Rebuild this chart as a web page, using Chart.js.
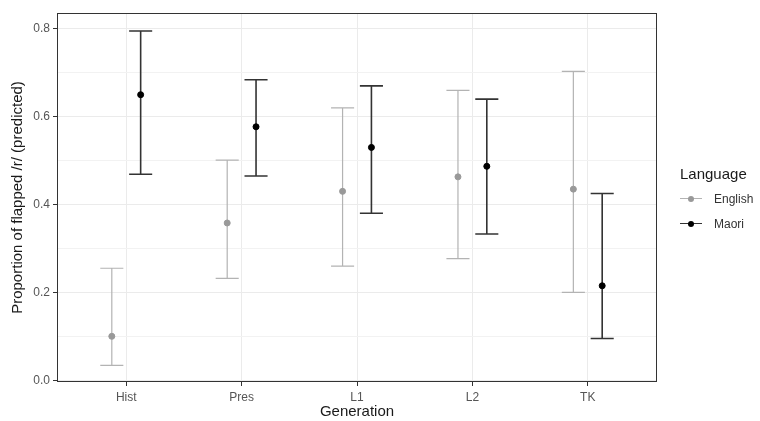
<!DOCTYPE html>
<html>
<head>
<meta charset="utf-8">
<script src="https://cdn.jsdelivr.net/npm/chart.js@4"></script>
<style>
  body { margin: 0; background: #fff; font-family: "Liberation Sans", Arial, sans-serif; }
  #wrap { position: relative; width: 760px; height: 421px; }
  #legend { position: absolute; left: 680px; top: 165px; color: #1a1a1a; }
  #legend .title { font-size: 15px; line-height: 18px; margin-bottom: 3px; }
  #legend .item { display: flex; align-items: center; height: 25px; font-size: 12px; color: #333; }
  #legend .key { position: relative; width: 22px; height: 10px; margin: 0 12px 0 0; }
  #legend .key i { position: absolute; left: 0; right: 0; top: 4.5px; height: 1px; }
  #legend .key b { position: absolute; left: 8px; top: 2px; width: 6px; height: 6px; border-radius: 50%; }
</style>
</head>
<body>
<div id="wrap">
  <canvas id="chart" width="760" height="421"></canvas>
  <div id="legend">
    <div class="title">Language</div>
    <div class="item"><span class="key"><i style="background:#b3b3b3"></i><b style="background:#999"></b></span>English</div>
    <div class="item"><span class="key"><i style="background:#333"></i><b style="background:#000"></b></span>Maori</div>
  </div>
</div>
<script>
// ---------------------------------------------------------------------------
// Data
// ---------------------------------------------------------------------------
const categories = ["Hist", "Pres", "L1", "L2", "TK"];

const englishMean  = [0.100, 0.358, 0.430, 0.463, 0.435];
const englishLower = [0.034, 0.232, 0.260, 0.277, 0.200];
const englishUpper = [0.255, 0.501, 0.620, 0.660, 0.703];

const maoriMean  = [0.650, 0.577, 0.530, 0.487, 0.215];
const maoriLower = [0.469, 0.465, 0.380, 0.333, 0.095];
const maoriUpper = [0.795, 0.684, 0.670, 0.640, 0.425];

const yTicks = [0, 0.1, 0.2, 0.3, 0.4, 0.5, 0.6, 0.7, 0.8];
const yMajor = [0, 0.2, 0.4, 0.6, 0.8];

const DODGE = 0.125;   // ggplot position_dodge offset
const CAP = 0.1;       // half cap width in x units

const isMajor = (v) => yMajor.some((m) => Math.abs(m - v) < 1e-6);

// ---------------------------------------------------------------------------
// Error bars + panel border
// ---------------------------------------------------------------------------
const errorBars = {
  id: "errorBars",
  beforeDatasetsDraw(chart) {
    const { ctx, scales: { x, y } } = chart;
    const series = [
      { off: -DODGE, lo: englishLower, hi: englishUpper, color: "#b3b3b3", width: 1.2 },
      { off: DODGE, lo: maoriLower, hi: maoriUpper, color: "#333333", width: 1.6 },
    ];
    ctx.save();
    series.forEach((s) => {
      ctx.strokeStyle = s.color;
      ctx.lineWidth = s.width;
      categories.forEach((_, i) => {
        const cx = i + 1 + s.off;
        const px = x.getPixelForValue(cx);
        const x0 = x.getPixelForValue(cx - CAP);
        const x1 = x.getPixelForValue(cx + CAP);
        const yl = y.getPixelForValue(s.lo[i]);
        const yh = y.getPixelForValue(s.hi[i]);
        ctx.beginPath();
        ctx.moveTo(px, yl); ctx.lineTo(px, yh);
        ctx.moveTo(x0, yl); ctx.lineTo(x1, yl);
        ctx.moveTo(x0, yh); ctx.lineTo(x1, yh);
        ctx.stroke();
      });
    });
    ctx.restore();
  },
  afterDraw(chart) {
    const { ctx, chartArea: a } = chart;
    ctx.save();
    ctx.strokeStyle = "#333";
    ctx.lineWidth = 1;
    ctx.strokeRect(Math.round(a.left) + 0.5, Math.round(a.top) + 0.5,
      Math.round(a.right - a.left) - 1, Math.round(a.bottom - a.top) - 1);
    ctx.restore();
  },
};

// ---------------------------------------------------------------------------
// Chart
// ---------------------------------------------------------------------------
new Chart(document.getElementById("chart"), {
  type: "scatter",
  data: {
    datasets: [
      {
        label: "English",
        data: englishMean.map((v, i) => ({ x: i + 1 - DODGE, y: v })),
        backgroundColor: "#999999",
        borderColor: "#999999",
        pointRadius: 3,
      },
      {
        label: "Maori",
        data: maoriMean.map((v, i) => ({ x: i + 1 + DODGE, y: v })),
        backgroundColor: "#000000",
        borderColor: "#000000",
        pointRadius: 3,
      },
    ],
  },
  options: {
    responsive: false,
    animation: false,
    layout: { padding: { top: 13, right: 103, left: 9, bottom: 0 } },
    plugins: { legend: { display: false }, tooltip: { enabled: false } },
    scales: {
      x: {
        type: "linear",
        min: 0.4,
        max: 5.6,
        afterBuildTicks: (axis) => { axis.ticks = categories.map((_, i) => ({ value: i + 1 })); },
        afterFit: (axis) => { axis.height = 39; },
        ticks: {
          callback: (v) => categories[Math.round(v) - 1] || "",
          color: "#555",
          font: { family: "Liberation Sans", size: 12 },
          padding: 4,
          maxRotation: 0,
        },
        grid: { color: "#ebebeb", tickColor: "#333", tickLength: 4 },
        border: { display: false },
        title: {
          display: true,
          text: "Generation",
          color: "#1a1a1a",
          font: { family: "Liberation Sans", size: 15 },
          padding: { top: 0, bottom: 0 },
        },
      },
      y: {
        min: -0.004,
        max: 0.836,
        afterBuildTicks: (axis) => { axis.ticks = yTicks.map((v) => ({ value: v })); },
        afterFit: (axis) => { axis.width = 48; },
        ticks: {
          callback: (v) => (isMajor(v) ? v.toFixed(1) : ""),
          color: "#555",
          font: { family: "Liberation Sans", size: 12 },
          padding: 3,
        },
        grid: {
          color: (c) => (isMajor(c.tick.value) ? "#ebebeb" : "#f2f2f2"),
          tickColor: (c) => (c.tick && isMajor(c.tick.value) ? "#333" : "rgba(0,0,0,0)"),
          tickLength: 4,
        },
        border: { display: false },
        title: {
          display: true,
          text: "Proportion of flapped /r/ (predicted)",
          color: "#1a1a1a",
          font: { family: "Liberation Sans", size: 15 },
          padding: { top: 0, bottom: 0 },
        },
      },
    },
  },
  plugins: [errorBars],
});
</script>
</body>
</html>
